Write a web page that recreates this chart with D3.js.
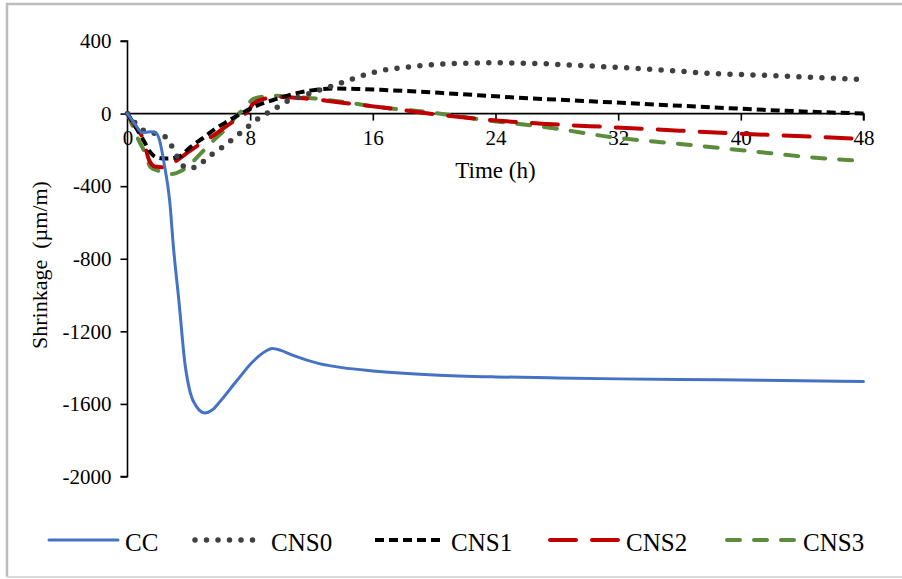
<!DOCTYPE html>
<html>
<head>
<meta charset="utf-8">
<script src="https://cdn.jsdelivr.net/npm/d3@7"></script>
<style>
  body { margin: 0; background: #fff; }
  svg { display: block; font-family: "Liberation Serif", "Times New Roman", serif; }
</style>
</head>
<body>
<div id="wrapper"></div>
<script>
// data: time (h) and shrinkage (µm/m)
const ccTime   = [0, 0.5, 0.95, 1.5, 1.85, 2.1, 2.4, 2.75, 3.0, 3.35, 3.75, 4.1, 4.5, 5.05, 5.5, 6.05, 7.1, 8.2, 9.0, 9.45, 10, 10.8, 12.5, 14, 16, 20, 24, 28, 32, 36, 40, 44, 48]
const ccValues = [0, -60, -105, -100, -105, -150, -280, -480, -740, -1030, -1380, -1540, -1615, -1650, -1635, -1585, -1475, -1365, -1310, -1295, -1305, -1333, -1378, -1400, -1418, -1440, -1451, -1457, -1462, -1465, -1468, -1472, -1477]

const cns0Time   = [0, 1, 2, 2.6, 3.0, 3.3, 3.85, 4.5, 5.2, 5.8, 6.4, 7.0, 7.6, 8.2, 8.8, 9.5, 10.1, 11, 12, 13.2, 14.8, 16, 18.6, 21, 24, 27, 29.5, 33.8, 38, 42.5, 48]
const cns0Values = [0, -90, -115, -135, -200, -245, -300, -295, -243, -208, -172, -130, -90, -48, -11, 20, 55, 85, 115, 148, 195, 226, 260, 275, 280, 275, 265, 246, 222, 208, 188]

const cns1Time   = [0, 0.5, 1.06, 1.5, 1.85, 2.5, 3.3, 4.1, 5.0, 5.7, 6.6, 7.56, 8.44, 9.5, 10.8, 12, 13.5, 15, 16.5, 20.8, 25, 31.6, 38, 42.5, 48]
const cns1Values = [0, -70, -150, -215, -240, -248, -240, -185, -130, -85, -39, 7, 44, 75, 108, 128, 138, 136, 131, 112, 90, 62, 35, 17, 0]

const cns2Time   = [0, 0.4, 1.06, 1.4, 1.8, 2.5, 3.2, 4.1, 4.75, 5.6, 6.5, 7.35, 7.9, 8.2, 9.1, 10, 12, 14, 16.5, 20.8, 23.6, 27.3, 31.6, 36, 40.3, 44.6, 48]
const cns2Values = [0, -57, -150, -255, -292, -296, -259, -204, -167, -121, -66, -20, 17, 55, 85, 92, 80, 60, 35, -11, -35, -57, -75, -94, -112, -127, -140]

const cns3Time   = [0, 0.1, 0.63, 1.17, 1.5, 2.0, 2.9, 3.45, 4.1, 4.75, 5.6, 6.5, 7.13, 7.8, 8.2, 9.5, 10.8, 12, 14, 16.5, 19.7, 23.6, 27.3, 31.6, 36, 40.3, 44.6, 47.3]
const cns3Values = [0, -20, -130, -222, -295, -315, -333, -318, -278, -222, -149, -76, -11, 44, 81, 99, 92, 85, 65, 35, 7, -39, -75, -130, -167, -204, -241, -258]

const seriesNames = ["CC", "CNS0", "CNS1", "CNS2", "CNS3"]
const xTicks = [0, 8, 16, 24, 32, 40, 48]
const yTicks = [400, 0, -400, -800, -1200, -1600, -2000]

const seriesData = [
    d3.zip(ccTime, ccValues),
    d3.zip(cns0Time, cns0Values),
    d3.zip(cns1Time, cns1Values),
    d3.zip(cns2Time, cns2Values),
    d3.zip(cns3Time, cns3Values)
]

// line styles per series
const styles = [
    {color: "#4472C4", width: 3, dash: null, cap: "round"},
    {color: "#404040", width: 5.5, dash: "0 11.5", cap: "round"},
    {color: "#000000", width: 4, dash: "9 5", cap: "butt"},
    {color: "#C00000", width: 4, dash: "26 16", cap: "round"},
    {color: "#5B8C3B", width: 4, dash: "13 14", cap: "round"}
]

const width = 902
const height = 579

const svg = d3.select("#wrapper")
    .append("svg")
        .attr("width", width)
        .attr("height", height)

// outer chart border
svg.append("path")
    .attr("d", "M7,577 V4 H905")
    .attr("fill", "none")
    .attr("stroke", "#bdbdbd")
    .attr("stroke-width", 2.5)
svg.append("line")
    .attr("x1", 7).attr("x2", 905)
    .attr("y1", 577).attr("y2", 577)
    .attr("stroke", "#d9d9d9")
    .attr("stroke-width", 2)

const xScale = d3.scaleLinear()
    .domain([0, 48])
    .range([127.5, 863.5])
const yScale = d3.scaleLinear()
    .domain([-2000, 400])
    .range([476.5, 41])

// y axis with outward ticks on the left (plain hyphen for negatives)
const yAxis = svg.append("g")
    .attr("transform", `translate(${xScale(0)},0)`)
    .call(d3.axisLeft(yScale).tickValues(yTicks).tickSize(7).tickPadding(9).tickFormat(d => String(d)))
yAxis.select(".domain").attr("stroke-width", 1.6).attr("d", `M-7,${yScale(400)}H0V${yScale(-2000)}H-7`)
yAxis.selectAll(".tick line").attr("stroke-width", 1.6)
yAxis.selectAll("text").style("font-size", "21px").attr("fill", "#000")
yAxis.attr("font-family", null)

// x axis lies on the zero line
const xAxis = svg.append("g")
    .attr("transform", `translate(0,${yScale(0)})`)
    .call(d3.axisBottom(xScale).tickValues(xTicks).tickSize(7).tickPadding(10).tickFormat(d => String(d)))
xAxis.select(".domain").attr("stroke-width", 1.6).attr("d", `M${xScale(0)},0H${xScale(48)}V7`)
xAxis.selectAll(".tick line").attr("stroke-width", 1.6)
xAxis.selectAll("text").style("font-size", "21px").attr("fill", "#000")
xAxis.attr("font-family", null)

// axis titles
svg.append("text")
    .attr("x", xScale(24))
    .attr("y", 178)
    .attr("text-anchor", "middle")
    .style("font-size", "23px")
    .text("Time (h)")

svg.append("text")
    .attr("transform", `translate(47,${265}) rotate(-90)`)
    .attr("text-anchor", "middle")
    .style("font-size", "22px")
    .text("Shrinkage\u00a0\u00a0(\u00b5m/m)")

// series lines
const lineGenerator = d3.line()
    .x(d => xScale(d[0]))
    .y(d => yScale(d[1]))
    .curve(d3.curveMonotoneX)

// draw in reverse so CC ends up on top of the rest
const order = [4, 3, 2, 1, 0]
order.forEach(i => {
    svg.append("path")
        .attr("d", lineGenerator(seriesData[i]))
        .attr("fill", "none")
        .attr("stroke", styles[i].color)
        .attr("stroke-width", styles[i].width)
        .attr("stroke-dasharray", styles[i].dash)
        .attr("stroke-linecap", styles[i].cap)
        .attr("stroke-linejoin", "round")
})

// legend
const legendX = [49, 195, 375, 550, 727]
const legendY = 540
const legend = svg.append("g")
seriesNames.forEach((name, i) => {
    legend.append("line")
        .attr("x1", legendX[i])
        .attr("x2", legendX[i] + 69)
        .attr("y1", legendY)
        .attr("y2", legendY)
        .attr("stroke", styles[i].color)
        .attr("stroke-width", styles[i].width)
        .attr("stroke-dasharray", styles[i].dash)
        .attr("stroke-linecap", styles[i].cap)
    legend.append("text")
        .attr("x", legendX[i] + 76)
        .attr("y", legendY + 11)
        .style("font-size", "25px")
        .text(name)
})
</script>
</body>
</html>
